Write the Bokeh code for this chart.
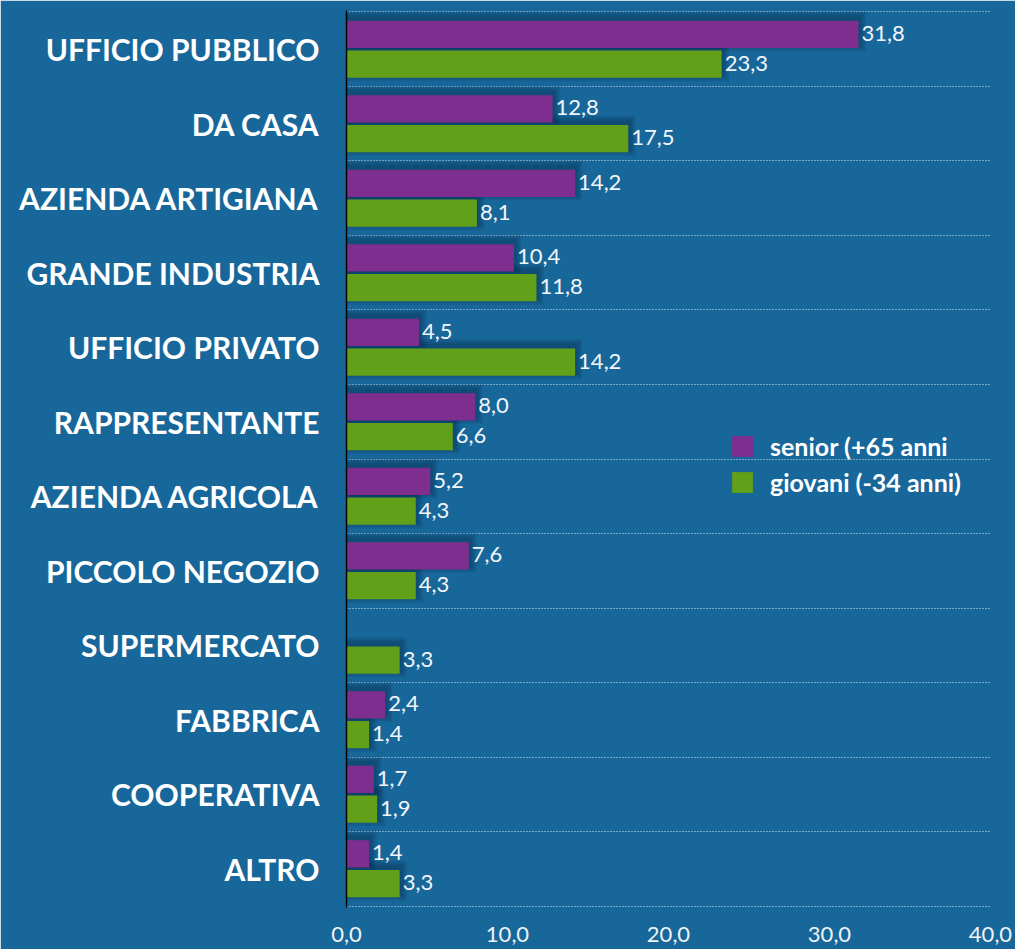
import numpy as np
from bokeh.plotting import figure
from bokeh.models import (ColumnDataSource, Range1d, FixedTicker, LabelSet,
                          Legend, LegendItem)
from bokeh.core.properties import value
from bokeh.embed import file_html
from bokeh.resources import INLINE

categories = ["UFFICIO PUBBLICO", "DA CASA", "AZIENDA ARTIGIANA", "GRANDE INDUSTRIA",
              "UFFICIO PRIVATO", "RAPPRESENTANTE", "AZIENDA AGRICOLA", "PICCOLO NEGOZIO",
              "SUPERMERCATO", "FABBRICA", "COOPERATIVA", "ALTRO"]
senior = [31.8, 12.8, 14.2, 10.4, 4.5, 8.0, 5.2, 7.6, None, 2.4, 1.7, 1.4]
giovani = [23.3, 17.5, 8.1, 11.8, 14.2, 6.6, 4.3, 4.3, 3.3, 1.4, 1.9, 3.3]
series_names = ["senior (+65 anni", "giovani (-34 anni)"]
x_ticks = [0, 10, 20, 30, 40]

BG = "#18679a"
PURPLE = "#7e2e8f"
GREEN = "#63a019"
FONT = "Lato"

n = len(categories)
idx = np.arange(n)
H = 0.365
PAD = 0.02

def fmt(v):
    return f"{v:.1f}".replace(".", ",")

def make_source(vals, off):
    ys, xs, labels = [], [], []
    for i, v in enumerate(vals):
        if v is None:
            continue
        ys.append(i + off)
        xs.append(v)
        labels.append(fmt(v))
    return ColumnDataSource(dict(y=ys, x=xs, label=labels))

src_s = make_source(senior, 0.30)
src_g = make_source(giovani, 0.70)

p = figure(width=1015, height=949, output_backend="svg", toolbar_location=None,
           x_range=Range1d(0, 40), y_range=Range1d(n + PAD, -PAD),
           min_border_left=346, min_border_right=25, min_border_top=10,
           min_border_bottom=42)
p.background_fill_color = BG
p.border_fill_color = BG
p.outline_line_color = BG
p.outline_line_width = 1

# soft, blurred shadows (layered, slightly up and to the right)
PX_X = 40 / 644.0
PX_Y = n / 893.0
for src in (src_s, src_g):
    d = src.data
    for k in range(1, 5):
        grow = 1.6 * k
        sh = ColumnDataSource(dict(
            y=[y - 3 * PX_Y for y in d["y"]],
            x=[x + (1 + grow) * PX_X for x in d["x"]]))
        p.hbar(y="y", right="x", left=0, height=H + 2 * grow * PX_Y, source=sh,
               fill_color="#02122a", fill_alpha=0.09, line_color=None)

r_s = p.hbar(y="y", right="x", left=0, height=H, source=src_s,
             fill_color=PURPLE, line_color=None)
r_g = p.hbar(y="y", right="x", left=0, height=H, source=src_g,
             fill_color=GREEN, line_color=None)

for src in (src_s, src_g):
    p.add_layout(LabelSet(x="x", y="y", text="label", source=src, x_offset=3,
                          y_offset=1,
                          text_baseline="middle", text_align="left",
                          text_font=value(FONT), text_font_size="22px",
                          text_color="#f2f6fa"))

# y axis
p.yaxis.ticker = FixedTicker(ticks=[i + 0.5 for i in idx])
p.yaxis.major_label_overrides = {float(i + 0.5): c for i, c in enumerate(categories)}
p.yaxis.major_label_text_font = FONT
p.yaxis.major_label_text_font_style = "bold"
p.yaxis.major_label_text_font_size = "30px"
p.yaxis.major_label_text_color = "white"
p.yaxis.major_label_standoff = 21
p.yaxis.major_tick_line_color = None
p.yaxis.minor_tick_line_color = None
p.yaxis.axis_line_color = "black"
p.yaxis.axis_line_width = 1.5

# x axis
p.xaxis.ticker = FixedTicker(ticks=x_ticks)
p.xaxis.major_label_overrides = {t: fmt(t) for t in x_ticks}
p.xaxis.major_label_text_font = FONT
p.xaxis.major_label_text_font_size = "22px"
p.xaxis.major_label_text_color = "#eef3f7"
p.xaxis.major_label_standoff = 13
p.xaxis.major_tick_line_color = None
p.xaxis.minor_tick_line_color = None
p.xaxis.axis_line_color = None

# grids
p.xgrid.grid_line_color = None
p.ygrid.ticker = FixedTicker(ticks=list(range(n + 1)))
p.ygrid.grid_line_color = "white"
p.ygrid.grid_line_alpha = 0.85
p.ygrid.grid_line_dash = "1 2"
p.ygrid.grid_line_width = 1

legend = Legend(items=[LegendItem(label=series_names[0], renderers=[r_s]),
                       LegendItem(label=series_names[1], renderers=[r_g])],
                location=(383, 410), orientation="vertical",
                glyph_width=26, glyph_height=26, spacing=6, padding=0, margin=0,
                label_standoff=15, label_text_font=FONT,
                label_text_font_style="bold", label_text_font_size="25px",
                label_text_color="white", label_height=26,
                background_fill_alpha=0, border_line_alpha=0)
p.add_layout(legend, "center")

open("out.html", "w").write(file_html(p, INLINE))
